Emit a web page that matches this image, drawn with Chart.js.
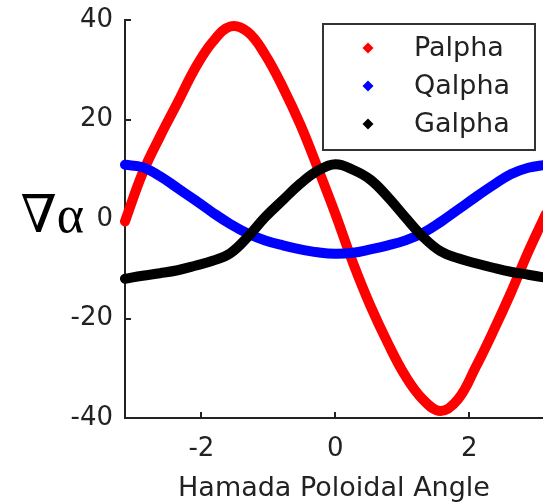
<!DOCTYPE html>
<html>
<head>
<meta charset="utf-8">
<script src="https://cdn.jsdelivr.net/npm/chart.js@4.4.1/dist/chart.umd.min.js"></script>
<style>
  html, body { margin: 0; padding: 0; background: #ffffff; }
  #wrap { width: 543px; height: 502px; position: relative; }
</style>
</head>
<body>
<div id="wrap"><canvas id="c" width="543" height="502"></canvas></div>
<script>
// Hamada poloidal angle samples (radians)
const angles = [-3.142, -2.880, -2.618, -2.356, -2.094, -1.833, -1.571, -1.309, -1.047, -0.785, -0.524, -0.262,
                0, 0.262, 0.524, 0.785, 1.047, 1.309, 1.571, 1.833, 2.094, 2.356, 2.618, 2.880, 3.142];
const palpha = [-0.5, 9.2, 16.6, 23.4, 30.3, 35.6, 38.7, 37.6, 33.0, 26.5, 19.0, 10.2,
                1.0, -8.8, -17.5, -25.0, -31.6, -36.3, -38.6, -36.2, -29.8, -22.6, -14.9, -6.6, 1.0];
const qalpha = [10.9, 10.4, 8.6, 6.2, 3.8, 1.3, -1.0, -2.9, -4.3, -5.3, -6.1, -6.7,
                -7.0, -6.8, -6.1, -5.3, -4.3, -2.8, -0.6, 1.9, 4.4, 6.8, 9.0, 10.3, 10.9];
const galpha = [-12.0, -11.4, -10.9, -10.3, -9.4, -8.4, -6.9, -3.6, 0.4, 3.8, 7.1, 9.7,
                11.0, 9.9, 7.9, 4.4, 0.3, -3.6, -6.5, -7.9, -8.9, -9.8, -10.6, -11.2, -11.8];
const seriesNames = ['Palpha', 'Qalpha', 'Galpha'];
const seriesColors = ['#ff0000', '#0000ff', '#000000'];
const xTicks = [-2, 0, 2];
const yTicks = [-40, -20, 0, 20, 40];
const xTitle = 'Hamada Poloidal Angle';
const yTitle = '\u2207\u03b1';

const seriesValues = [palpha, qalpha, galpha];
const datasets = seriesValues.map((vals, i) => ({
  label: seriesNames[i],
  data: angles.map((a, k) => ({ x: a, y: vals[k] })),
  borderColor: seriesColors[i],
  backgroundColor: seriesColors[i],
  borderWidth: 10,
  pointRadius: 0,
  showLine: true,
  tension: 0.4,
  borderCapStyle: 'round',
  borderJoinStyle: 'round',
  clip: false,
  order: 3 - i
}));

const TEXT = '#222222';
const AXIS = '#222222';

const innerTicks = {
  id: 'innerTicks',
  beforeDatasetsDraw(chart) {
    const { ctx, chartArea, scales } = chart;
    ctx.save();
    ctx.strokeStyle = AXIS;
    ctx.lineWidth = 2;
    ctx.beginPath();
    scales.x.ticks.forEach(t => {
      const px = Math.round(scales.x.getPixelForValue(t.value));
      ctx.moveTo(px, chartArea.bottom);
      ctx.lineTo(px, chartArea.bottom - 6);
    });
    scales.y.ticks.forEach(t => {
      const py = Math.round(scales.y.getPixelForValue(t.value));
      ctx.moveTo(chartArea.left, py);
      ctx.lineTo(chartArea.left + 6, py);
    });
    ctx.stroke();
    ctx.restore();
  }
};

const yLabelPlugin = {
  id: 'yLabel',
  afterDraw(chart) {
    const { ctx, scales } = chart;
    const y0 = scales.y.getPixelForValue(0);
    ctx.save();
    ctx.fillStyle = '#000000';
    ctx.font = "52px 'Liberation Serif', 'DejaVu Serif', serif";
    ctx.textAlign = 'right';
    ctx.textBaseline = 'alphabetic';
    ctx.fillText(yTitle, chart.chartArea.left - 41, y0 + 13);
    ctx.restore();
  }
};

const boxLegend = {
  id: 'boxLegend',
  afterDatasetsDraw(chart) {
    const { ctx, chartArea } = chart;
    const w = 212, h = 126;
    const left = chartArea.right - 8 - w;
    const top = chartArea.top + 4;
    ctx.save();
    ctx.fillStyle = '#ffffff';
    ctx.fillRect(left, top, w, h);
    ctx.strokeStyle = '#333333';
    ctx.lineWidth = 2;
    ctx.strokeRect(left, top, w, h);
    ctx.font = "27px 'DejaVu Sans', sans-serif";
    ctx.textBaseline = 'middle';
    ctx.textAlign = 'left';
    chart.data.datasets.forEach((ds, i) => {
      const cy = top + 24 + i * 38;
      const mx = left + 45;
      ctx.fillStyle = ds.borderColor;
      ctx.beginPath();
      ctx.moveTo(mx, cy - 5.5);
      ctx.lineTo(mx + 5.5, cy);
      ctx.lineTo(mx, cy + 5.5);
      ctx.lineTo(mx - 5.5, cy);
      ctx.closePath();
      ctx.fill();
      ctx.fillStyle = TEXT;
      ctx.fillText(ds.label, left + 91, cy + 1);
    });
    ctx.restore();
  }
};

new Chart(document.getElementById('c'), {
  type: 'scatter',
  data: { datasets },
  options: {
    responsive: false,
    animation: false,
    events: [],
    layout: { padding: { top: 20, right: 0, bottom: 0, left: 0 } },
    plugins: { legend: { display: false }, tooltip: { enabled: false } },
    scales: {
      x: {
        type: 'linear',
        min: -3.1416,
        max: 3.1,
        afterBuildTicks: s => { s.ticks = xTicks.map(v => ({ value: v })); },
        afterFit: s => { s.height = 84; s.paddingLeft = 0; s.paddingRight = 0; },
        grid: { display: true, drawOnChartArea: false, drawTicks: false },
        border: { display: true, color: AXIS, width: 2 },
        ticks: { color: TEXT, font: { family: "'DejaVu Sans', sans-serif", size: 26 }, padding: 16, maxRotation: 0 },
        title: { display: true, text: xTitle, color: TEXT, font: { family: "'DejaVu Sans', sans-serif", size: 27, lineHeight: 1 }, padding: { top: 0, bottom: 0 } }
      },
      y: {
        type: 'linear',
        min: -40,
        max: 40,
        afterBuildTicks: s => { s.ticks = yTicks.map(v => ({ value: v })); },
        afterFit: s => { s.width = 125; s.paddingTop = 0; s.paddingBottom = 0; },
        grid: { display: true, drawOnChartArea: false, drawTicks: false },
        border: { display: true, color: AXIS, width: 2 },
        ticks: { color: TEXT, font: { family: "'DejaVu Sans', sans-serif", size: 26 }, padding: 12 }
      }
    }
  },
  plugins: [innerTicks, yLabelPlugin, boxLegend]
});
</script>
</body>
</html>
